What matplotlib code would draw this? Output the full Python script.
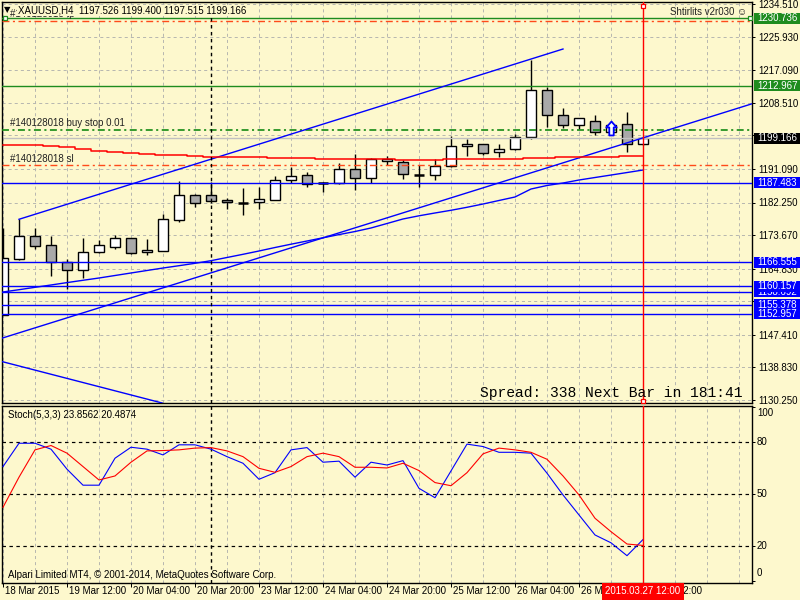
import matplotlib
matplotlib.use("Agg")
import matplotlib.pyplot as plt
from matplotlib.path import Path
from matplotlib.patches import Rectangle
from matplotlib.transforms import blended_transform_factory

# ---------------- data ----------------
opens = [1152.6, 1167.3, 1173.4, 1171.0, 1166.5, 1164.4, 1169.1, 1170.5, 1172.8, 1169.1,
         1169.5, 1177.6, 1184.1, 1184.1, 1182.8, 1182.2, 1182.3, 1183.0, 1188.1, 1189.4,
         1187.3, 1187.3, 1191.0, 1188.6, 1193.1, 1192.8, 1189.6, 1189.4, 1191.8, 1197.0,
         1197.6, 1195.5, 1196.3, 1199.4, 1211.8, 1205.2, 1202.6, 1203.6, 1200.7, 1202.8,
         1197.526]
highs = [1175.5, 1177.8, 1175.5, 1173.4, 1167.5, 1172.8, 1172.4, 1173.7, 1172.9, 1172.6,
         1179.2, 1187.9, 1184.5, 1187.6, 1183.4, 1186.0, 1186.3, 1189.2, 1191.6, 1190.4,
         1187.7, 1192.7, 1195.0, 1193.9, 1194.5, 1193.4, 1192.1, 1193.6, 1199.8, 1199.0,
         1197.6, 1197.6, 1200.3, 1219.8, 1212.6, 1207.1, 1204.5, 1205.3, 1203.6, 1206.1,
         1199.400]
lows = [1152.5, 1167.1, 1170.0, 1162.9, 1159.5, 1162.3, 1169.0, 1169.9, 1168.6, 1168.5,
        1169.4, 1177.1, 1181.0, 1182.2, 1180.6, 1179.0, 1180.6, 1182.9, 1187.5, 1186.3,
        1185.1, 1187.1, 1185.5, 1187.3, 1192.2, 1188.4, 1186.4, 1188.2, 1191.7, 1194.5,
        1194.7, 1194.3, 1196.2, 1198.9, 1202.2, 1201.9, 1201.7, 1200.1, 1199.9, 1195.6,
        1197.515]
closes = [1167.6, 1173.4, 1170.9, 1166.7, 1164.4, 1169.2, 1171.0, 1172.8, 1168.9, 1169.7,
          1177.8, 1184.2, 1182.0, 1182.7, 1182.3, 1182.2, 1183.1, 1188.1, 1189.2, 1187.1,
          1187.3, 1191.0, 1188.6, 1193.6, 1193.6, 1189.7, 1189.6, 1191.8, 1197.0, 1197.6,
          1195.2, 1196.3, 1199.4, 1211.8, 1205.2, 1202.6, 1204.4, 1200.7, 1202.7, 1197.6,
          1199.166]

red_ma = [1197.52, 1197.52, 1197.39, 1197.12, 1196.86, 1196.33, 1195.81, 1195.54, 1195.28, 1195.02,
          1194.75, 1194.75, 1194.49, 1194.36, 1194.23, 1194.15, 1194.10, 1193.96, 1193.96, 1193.91,
          1193.78, 1193.78, 1193.78, 1193.78, 1193.70, 1193.57, 1193.57, 1193.57, 1193.62, 1193.65,
          1193.65, 1193.65, 1193.70, 1193.89, 1193.89, 1194.15, 1194.15, 1194.15, 1194.36, 1194.41,
          1194.41]
blue_ma = [1158.69, 1159.29, 1159.92, 1160.53, 1161.16, 1161.77, 1162.37, 1163.03, 1163.69, 1164.35,
           1165.00, 1165.61, 1166.24, 1166.93, 1167.77, 1168.61, 1169.48, 1170.40, 1171.27, 1172.11,
           1172.96, 1173.80, 1174.61, 1175.54, 1176.72, 1177.91, 1178.75, 1179.49, 1180.20, 1180.99,
           1181.85, 1182.78, 1183.70, 1185.80, 1186.73, 1187.38, 1188.17, 1188.83, 1189.48, 1190.14,
           1190.80]

stoch_k = [65.8, 79.2, 79.2, 75.8, 64.3, 55.1, 55.1, 70.6, 76.9, 75.8,
           72.5, 78.3, 78.3, 75.8, 71.5, 67.7, 58.5, 62.3, 75.4, 76.7,
           68.3, 68.9, 59.7, 68.3, 66.7, 69.2, 53.3, 47.9, 63.3, 78.7,
           77.3, 74.0, 74.0, 73.5, 62.0, 49.5, 38.0, 26.5, 22.0, 14.6,
           23.8562]
stoch_d = [42.4, 59.7, 75.4, 77.9, 73.5, 65.8, 58.1, 60.4, 68.3, 74.8,
           75.0, 75.4, 76.4, 76.7, 74.8, 71.5, 64.8, 62.5, 65.8, 71.5,
           73.5, 71.5, 65.4, 65.4, 65.0, 67.7, 63.5, 56.6, 54.8, 62.3,
           73.1, 76.4, 75.4, 74.0, 70.0, 60.4, 49.5, 36.1, 28.4, 21.3,
           20.4874]

price_ticks = [1234.51, 1225.93, 1217.09, 1208.51, 1199.93, 1191.09, 1182.25,
               1173.67, 1164.83, 1156.25, 1147.41, 1138.83, 1130.25]
# tick labels that the reference hides completely behind price boxes
price_hidden = [1199.93, 1156.25]
stoch_ticks = [100, 80, 50, 20, 0]
stoch_levels = [80, 50, 20]
time_tick_bars = [0, 4, 8, 12, 16, 20, 24, 28, 32, 36, 40]
time_tick_labels = ["18 Mar 2015", "19 Mar 12:00", "20 Mar 04:00", "20 Mar 20:00",
                    "23 Mar 12:00", "24 Mar 04:00", "24 Mar 20:00", "25 Mar 12:00",
                    "26 Mar 04:00", "26 Mar 20:00", "27 Mar 12:00"]

green_levels = [1230.736, 1212.967]
blue_levels = [1187.483, 1166.555, 1158.692, 1160.157, 1155.378, 1152.957]
bid_price = 1199.166
order_tp = 1230.0
order_buystop = 1201.3
order_sl = 1192.0
upper_channel = [(1, 1177.83), (35, 1222.66)]
lower_channel = [(0, 1146.61), (40, 1199.27)]
down_line = [(0, 1140.3), (10, 1129.4)]
buy_arrow = (38, 1201.9)
black_vline_bar = 13
red_vline_bar = 40

title = "XAUUSD,H4  1197.526 1199.400 1197.515 1199.166"
stoch_title = "Stoch(5,3,3) 23.8562 20.4874"
copyright_txt = "Alpari Limited MT4, \u00a9 2001-2014, MetaQuotes Software Corp."
spread_txt = "Spread: 338 Next Bar in 181:41"
ea_txt = "Shtirlits v2r030 \u263a"
cursor_date = "2015.03.27 12:00"

# ---------------- style ----------------
W, H = 800, 600
BG = '#fdf8cd'
GRID = '#b8b8b0'
GREEN = '#1e8c1e'
BLUE = '#0000ff'
RED = '#ff0000'
ORANGE = '#ff4a1a'
PX = 0.72  # one pixel in points

plt.rcParams['font.family'] = ['Liberation Sans', 'DejaVu Sans']
plt.rcParams['lines.scale_dashes'] = False
FS = 7


def fig_rect(x0, y0, x1, y1):
    return [x0 / W, 1 - y1 / H, (x1 - x0) / W, (y1 - y0) / H]


def fy(y):
    return 1 - y / H


fig = plt.figure(figsize=(8, 6), dpi=100, facecolor=BG)
ax = fig.add_axes(fig_rect(2, 2, 752, 403), facecolor=BG)
ax2 = fig.add_axes(fig_rect(2, 406, 752, 583), facecolor=BG)

x_lo, x_hi = (2 - 3) / 16, (752 - 3) / 16
for a in (ax, ax2):
    a.set_xlim(x_lo, x_hi)
    for s in a.spines.values():
        s.set_color('black')
        s.set_linewidth(1.0)
    for g in range(0, 48, 2):
        a.axvline(g, color=GRID, lw=PX, dashes=(2.2, 2.2), zorder=0.5)
ax.set_ylim(1129.46, 1235.04)
ax2.set_ylim(-1.1, 100.6)

# price grid + ticks
for p in price_ticks:
    ax.axhline(p, color=GRID, lw=PX, dashes=(2.2, 2.2), zorder=0.5)
ax.set_yticks(price_ticks, ['' if p in price_hidden else f"{p:.3f}" for p in price_ticks])
ax.yaxis.tick_right()
ax.tick_params(axis='y', length=2.5, width=PX, pad=2, labelsize=FS, colors='black')
ax.tick_params(axis='x', bottom=False, labelbottom=False)

# stoch axis
ax2.set_yticks(stoch_ticks, [''] * len(stoch_ticks))
ax2.yaxis.tick_right()
ax2.tick_params(axis='y', length=2.5, width=PX)
ax2.set_xticks(time_tick_bars, [''] * len(time_tick_bars))
ax2.tick_params(axis='x', length=3, width=PX, direction='out')
trY2 = blended_transform_factory(fig.transFigure, ax2.transData)
for v in stoch_ticks:
    va = 'top' if v == 100 else ('bottom' if v == 0 else 'center')
    off = -0.6 if v == 100 else (1.5 if v == 0 else 0)
    fig.text(757 / W, v + off, str(v), transform=trY2, va=va, ha='left', fontsize=FS)
trX2 = blended_transform_factory(ax2.transData, fig.transFigure)
for b, lab in zip(time_tick_bars, time_tick_labels):
    fig.text(b + 2 / 16, fy(591.5), lab, transform=trX2, ha='left', va='center', fontsize=FS)

for lv in stoch_levels:
    ax2.axhline(lv, color='black', lw=PX * 1.2, dashes=(2.5, 2.5), zorder=1)

# candles
for i in range(len(opens)):
    o, h, l, c = opens[i], highs[i], lows[i], closes[i]
    ax.vlines(i, l, h, color='black', lw=1.0, zorder=2)
    if abs(c - o) < 0.05:
        ax.hlines(o, i - 0.33, i + 0.33, color='black', lw=1.8, zorder=2.2)
    else:
        ax.add_patch(Rectangle((i - 0.33, min(o, c)), 0.66, abs(c - o),
                               facecolor='white' if c > o else '#a9a9a9',
                               edgecolor='black', lw=1.0, zorder=2.1))

# horizontal objects
for p in green_levels:
    ax.axhline(p, color=GREEN, lw=1.0, zorder=3)
for p in blue_levels:
    ax.axhline(p, color=BLUE, lw=1.0, zorder=3)
ax.axhline(bid_price, color='#c0c0c0', lw=1.0, zorder=2.5)
ax.axhline(order_tp, color=ORANGE, lw=1.0, dashes=(5, 2.5, 1.5, 2.5), zorder=3)
ax.axhline(order_buystop, color='#138a13', lw=1.2, dashes=(5, 2.5, 1.5, 2.5), zorder=3)
ax.axhline(order_sl, color=ORANGE, lw=1.0, dashes=(5, 2.5, 1.5, 2.5), zorder=3)

ax.plot([(5 - 3) / 16, (749.5 - 3) / 16], [green_levels[0]] * 2, ls='none', marker='s', ms=3.2,
        mfc='white', mec=GREEN, mew=0.9, zorder=6, clip_on=False)

# channel / trend lines
ax.plot([upper_channel[0][0], upper_channel[1][0]], [upper_channel[0][1], upper_channel[1][1]],
        color=BLUE, lw=1.0, zorder=3)
ax.axline(lower_channel[0], lower_channel[1], color=BLUE, lw=1.0, zorder=3)
ax.axline(down_line[0], down_line[1], color=BLUE, lw=1.0, zorder=3)

# moving averages
idx = list(range(len(red_ma)))
ax.plot(idx, red_ma, color=RED, lw=1.1, drawstyle='steps-mid', zorder=3)
ax.plot(idx, blue_ma, color=BLUE, lw=1.0, zorder=3)

# buy-stop arrow
verts = [(0, 1), (-0.75, 0.15), (-0.32, 0.15), (-0.32, -1), (0.32, -1), (0.32, 0.15), (0.75, 0.15), (0, 1)]
codes = [Path.MOVETO] + [Path.LINETO] * 6 + [Path.CLOSEPOLY]
ax.plot([buy_arrow[0]], [buy_arrow[1]], marker=Path(verts, codes), ms=10, mfc='white',
        mec=BLUE, mew=1.3, ls='none', zorder=6)

# vertical lines
for a in (ax, ax2):
    a.axvline(black_vline_bar, color='black', lw=1.0, dashes=(2.5, 2.5), zorder=3)
    a.axvline(red_vline_bar, color=RED, lw=1.0, zorder=4)
ax.plot([red_vline_bar, red_vline_bar], [1234.0, 1130.0], ls='none', marker='s', ms=3.2,
        mfc='white', mec=RED, mew=0.9, zorder=6, clip_on=False)

# stochastic
ax2.plot(range(len(stoch_k)), stoch_k, color=BLUE, lw=0.8, zorder=3)
ax2.plot(range(len(stoch_d)), stoch_d, color=RED, lw=0.8, zorder=3)

# order labels
ax.annotate("#140128018 buy stop 0.01", ((10 - 3) / 16, order_buystop), xytext=(0, 1.2),
            textcoords='offset points', va='bottom', ha='left', fontsize=FS, color='#222222', zorder=5)
ax.annotate("#140128018 sl", ((10 - 3) / 16, order_sl), xytext=(0, 1.2),
            textcoords='offset points', va='bottom', ha='left', fontsize=FS, color='#222222', zorder=5)
ax.annotate("#140128018 tp", ((10 - 3) / 16, order_tp), xytext=(0, 1.2),
            textcoords='offset points', va='bottom', ha='left', fontsize=FS, color='#222222', zorder=5)

# right-side price label boxes
trY = blended_transform_factory(fig.transFigure, ax.transData)
box_h = 11 / 3.798
box_items = [(green_levels[0], GREEN), (green_levels[1], GREEN), (bid_price, 'black'),
             (blue_levels[0], BLUE), (blue_levels[1], BLUE), (blue_levels[2], BLUE),
             (blue_levels[3], BLUE), (blue_levels[4], BLUE), (blue_levels[5], BLUE)]
for k, (p, col) in enumerate(box_items):
    fig.add_artist(Rectangle((753.5 / W, p - box_h / 2), 46.5 / W, box_h, transform=trY,
                             facecolor=col, edgecolor='none', zorder=4 + k * 0.01))
    fig.text(757 / W, p, f"{p:.3f}", transform=trY, ha='left', va='center', fontsize=FS,
             color='white', zorder=4.005 + k * 0.01)

# texts
fig.text(18 / W, fy(10.5), title, ha='left', va='center', fontsize=FS, color='black', zorder=6,
         bbox=dict(facecolor=BG, edgecolor='none', pad=0.6))
fig.text(4 / W, fy(10), "\u25bc", ha='left', va='center', fontsize=6, color='black', zorder=6,
         family='DejaVu Sans')
fig.text(747 / W, fy(12), ea_txt, ha='right', va='center', fontsize=FS, color='#222222', zorder=6)
fig.text(742 / W, fy(393), spread_txt, ha='right', va='center', fontsize=10.5,
         family='Liberation Mono', color='black', zorder=6)
fig.text(8 / W, fy(414.5), stoch_title, ha='left', va='center', fontsize=FS, color='black', zorder=6)
fig.text(8 / W, fy(574.5), copyright_txt, ha='left', va='center', fontsize=FS, color='black', zorder=6)
fig.text(red_vline_bar, fy(591.5), cursor_date, transform=trX2, ha='center', va='center',
         fontsize=FS, color='white', zorder=7,
         bbox=dict(facecolor=RED, edgecolor='none', pad=2.2))

fig.savefig('out.png', dpi=100, facecolor=BG)
